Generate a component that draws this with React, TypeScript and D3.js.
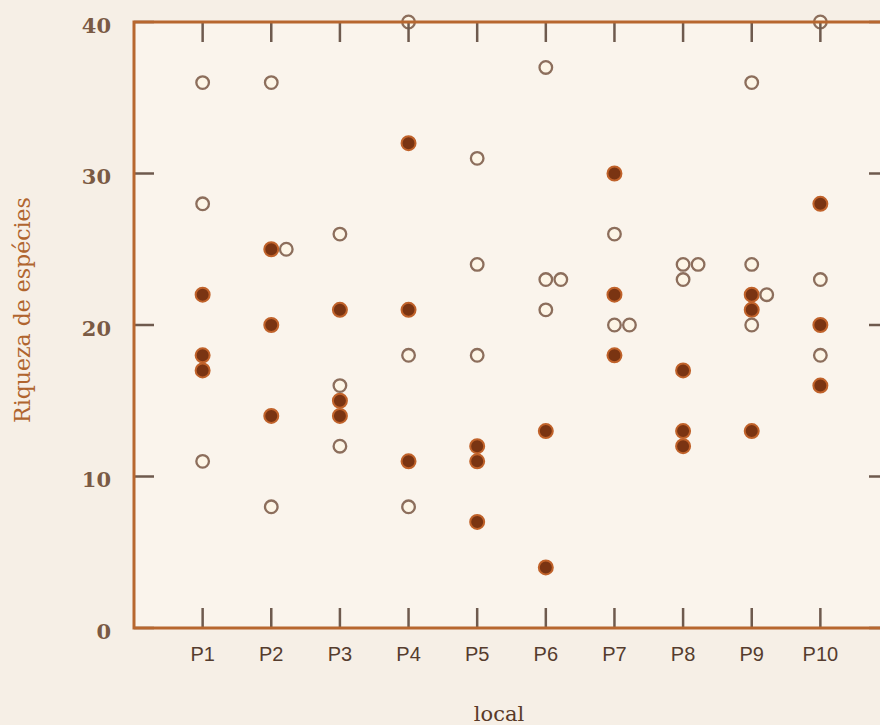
import * as d3 from 'd3';

const categories = ['P1', 'P2', 'P3', 'P4', 'P5', 'P6', 'P7', 'P8', 'P9', 'P10'];

// filled (dark) points, one list per site
const solid: number[][] = [
  [22, 18, 17],
  [25, 20, 14],
  [21, 15, 14],
  [32, 21, 11],
  [12, 11, 7],
  [13, 4],
  [30, 22, 18],
  [17, 13, 12],
  [22, 21, 13],
  [28, 20, 16],
];

// open points, one list per site
const hollow: number[][] = [
  [36, 28, 11],
  [36, 25, 8],
  [26, 16, 12],
  [40, 18, 8],
  [31, 24, 18],
  [37, 23, 23, 21],
  [26, 20, 20],
  [24, 24, 23],
  [36, 24, 22, 20],
  [40, 23, 18],
];

const yTicks = [0, 10, 20, 30, 40];

const W = 880;
const H = 725;
const left = 134;
const right = 889;
const top = 22;
const bottom = 628;
const tickLen = 20;
const jitterPx = 15;

const x = d3.scaleLinear().domain([0, categories.length + 1]).range([left, right]);
const y = d3.scaleLinear().domain([0, 40]).range([bottom, top]);

type Pt = { cat: number; value: number; kind: 'solid' | 'hollow'; shift: number };

// spread points with the same value sideways (like gnuplot jitter)
const points: Pt[] = [];
categories.forEach((_, i) => {
  const seen: number[] = [];
  const add = (v: number, kind: 'solid' | 'hollow') => {
    const k = seen.filter(s => Math.abs(s - v) < 0.5).length;
    seen.push(v);
    points.push({ cat: i + 1, value: v, kind, shift: k });
  };
  solid[i].forEach(v => add(v, 'solid'));
  hollow[i].forEach(v => add(v, 'hollow'));
});

const frameColor = '#b7672f';
const tickColor = '#6e5a4e';

export default function App() {
  return (
    <div style={{ position: 'fixed', left: 0, top: 0 }}>
      <svg width={W} height={H} style={{ display: 'block', background: '#f6efe6' }}>
        <rect x={left} y={top} width={right - left} height={bottom - top} fill="#faf4ec" />

        {/* points */}
        {points.filter(p => p.kind === 'solid').map((p, i) => (
          <circle key={'s' + i} cx={x(p.cat) + p.shift * jitterPx} cy={y(p.value)} r={7}
            fill="#7a3412" stroke="#c0622a" strokeWidth={2} />
        ))}
        {points.filter(p => p.kind === 'hollow').map((p, i) => (
          <circle key={'h' + i} cx={x(p.cat) + p.shift * jitterPx} cy={y(p.value)} r={6.3}
            fill="#fdf5e6" stroke="#8c6e5c" strokeWidth={2.3} />
        ))}

        {/* ticks, mirrored on all sides */}
        <g stroke={tickColor} strokeWidth={2.5}>
          {categories.map((c, i) => (
            <g key={c}>
              <line x1={x(i + 1)} x2={x(i + 1)} y1={bottom} y2={bottom - tickLen} />
              <line x1={x(i + 1)} x2={x(i + 1)} y1={top} y2={top + tickLen} />
            </g>
          ))}
          {yTicks.map(t => (
            <g key={t}>
              <line x1={left} x2={left + tickLen} y1={y(t)} y2={y(t)} />
              <line x1={right} x2={right - tickLen} y1={y(t)} y2={y(t)} />
            </g>
          ))}
        </g>

        <rect x={left} y={top} width={right - left} height={bottom - top}
          fill="none" stroke={frameColor} strokeWidth={3} />

        {/* y tick labels */}
        {yTicks.map(t => (
          <text key={t} x={111} y={y(t) + 5} textAnchor="end" dominantBaseline="middle"
            fontFamily="'DejaVu Serif', serif" fontWeight="bold" fontSize={21} fill="#7a5a44">{t}</text>
        ))}

        {/* x tick labels */}
        {categories.map((c, i) => (
          <text key={c} x={x(i + 1)} y={656} textAnchor="middle" dominantBaseline="middle"
            fontFamily="'Liberation Sans', Arial, sans-serif" fontSize={20} fill="#553c2e">{c}</text>
        ))}

        <text x={499} y={721} textAnchor="middle" fontFamily="'DejaVu Serif', serif"
          fontSize={21} fill="#5a3a28">local</text>

        <text transform="translate(30,310) rotate(-90)" textAnchor="middle"
          fontFamily="'DejaVu Serif', serif" fontSize={22} fill="#b0652f">Riqueza de espécies</text>
      </svg>
    </div>
  );
}
